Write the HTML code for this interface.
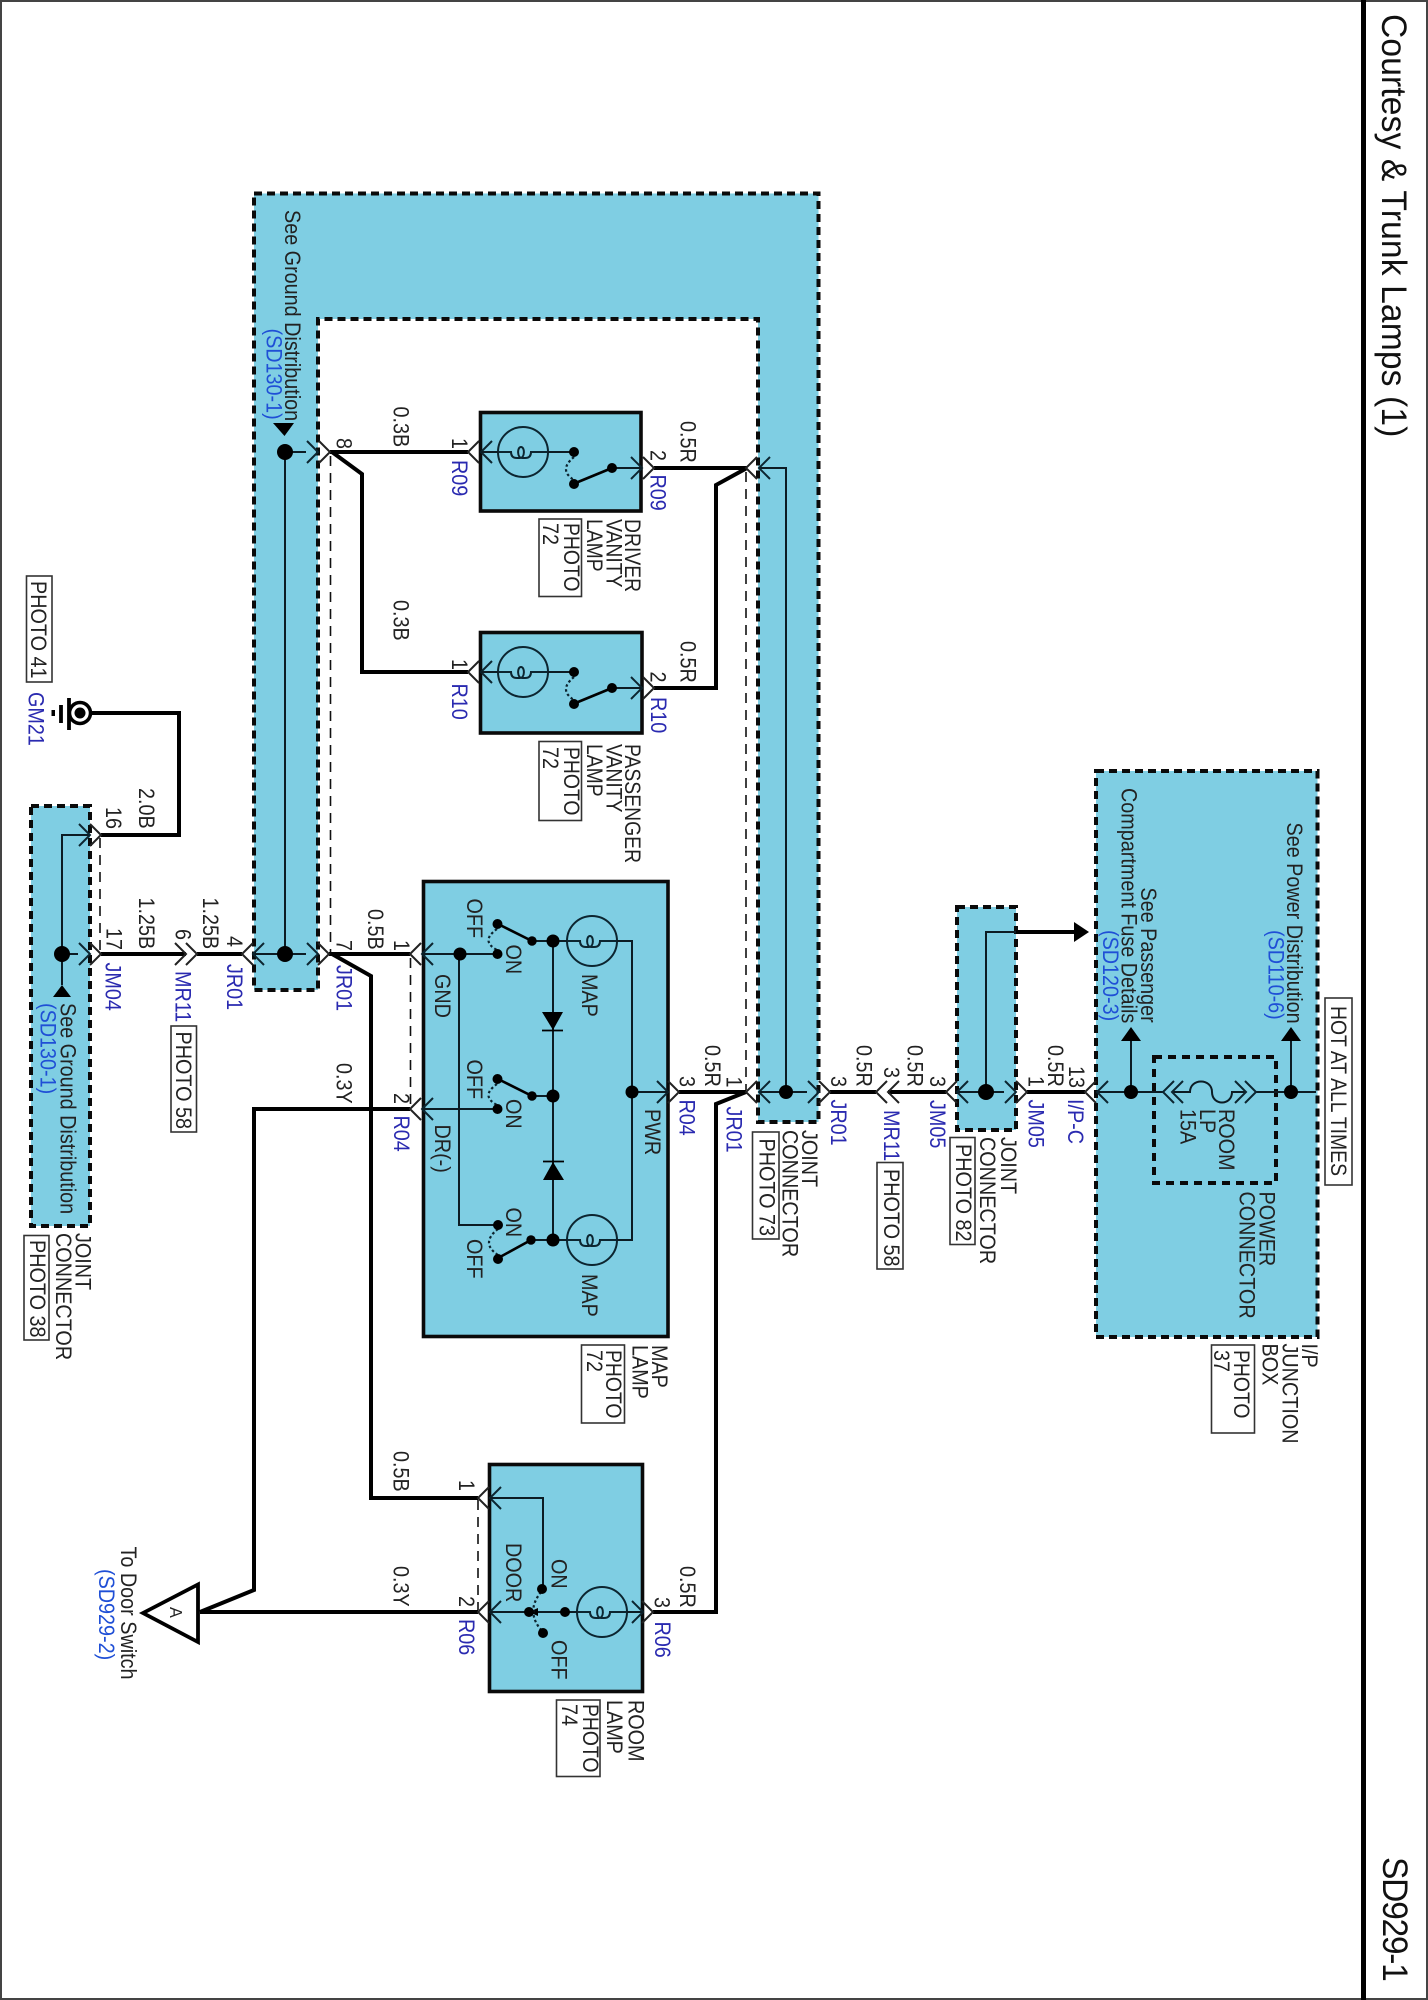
<!DOCTYPE html>
<html><head><meta charset="utf-8"><title>SD929-1</title>
<style>
html,body{margin:0;padding:0;background:#fff}
svg{display:block}
text{font-family:"Liberation Sans",Arial,sans-serif;font-size:22px;fill:#222}
.b{fill:#2a2ab0}
.s{fill:#1f4fd6}
.ti{font-size:35px;fill:#111}
.w{fill:none;stroke:#000;stroke-width:4;stroke-linejoin:miter}
.n{fill:none;stroke:#0c1c24;stroke-width:2}
.d{fill:none;stroke:#111;stroke-width:1.6;stroke-dasharray:10 7}
.z{fill:#7fcee3;stroke:#0a0a0a;stroke-width:4;stroke-dasharray:8 5}
.c{fill:#7fcee3;stroke:#0a0a0a;stroke-width:3.6}
.p{fill:#fff;stroke:#333;stroke-width:1.6}
.h{fill:none;stroke:#222;stroke-width:2}
.i{fill:none;stroke:#0c2530;stroke-width:2}
.a{fill:none;stroke:#0c2530;stroke-width:2.2;stroke-dasharray:2.5 2.5}
</style></head><body>
<svg xmlns="http://www.w3.org/2000/svg" width="1428" height="2000" viewBox="0 0 1428 2000">
<defs>
<path id="cr" d="M-11,-11L0,0L-11,11"/>
<path id="cl" d="M11,-11L0,0L11,11"/>
<g id="lamp" fill="none" stroke="#0c2530" stroke-width="2">
<circle r="25"/>
<path d="M-25,0H-12q0,6 6,6h3c5,0 5,-11 1,-11c-4,0 -4,11 1,11h3q6,0 6,-6H25"/>
</g>
</defs>
<rect width="1428" height="2000" fill="#fff"/>
<rect x="1" y="1" width="1426" height="1998" fill="none" stroke="#444" stroke-width="2"/>
<rect x="1361" y="0" width="5" height="2000" fill="#000"/>
<text class="ti" textLength="441" transform="matrix(0 .96 -1 0 1382 14)">Courtesy &amp; Trunk Lamps (1)</text>
<text class="ti" textLength="130" transform="matrix(0 .96 -1 0 1383 1857)">SD929-1</text>

<!-- shaded connectors -->
<path class="z" d="M254,193.500H818.500V1122H758V319H318V990H254Z"/>
<rect class="z" x="31" y="806" width="59" height="420"/>
<rect class="z" x="957" y="907" width="59" height="223"/>
<rect class="z" x="1096" y="771" width="221.500" height="566"/>
<rect x="1154" y="1057" width="122" height="126" fill="none" stroke="#0a0a0a" stroke-width="4" stroke-dasharray="8 6"/>
<rect class="c" x="480.500" y="412.500" width="160.500" height="98.500"/>
<rect class="c" x="480.500" y="632.500" width="161.500" height="100.500"/>
<rect class="c" x="423.500" y="881.500" width="244.500" height="455"/>
<rect class="c" x="489.500" y="1464.500" width="153" height="227"/>

<!-- dashed shorting lines -->
<path class="d" d="M330.500,456V954M100,838V954M410.500,958V1106M746,472V1090M478,1500V1610"/>

<!-- thick wires -->
<path class="w" d="M330,452H468M332,452L362,474V672H468"/>
<path class="w" d="M654,468H747M654,688H716V485L747,468"/>
<path class="w" d="M92,713H179V835H101"/>
<path class="w" d="M101,954H186M197,954H242M329,954H410M332,954L371,976V1498H478"/>
<path class="w" d="M410,1109H254V1590L200,1612"/>
<path class="w" d="M200,1612H478"/>
<path class="w" d="M679,1092H746L716,1104V1612H653"/>
<path class="w" d="M830,1092H876M888,1092H946M1027,1092H1085"/>
<path class="w" d="M1016,932H1076"/>
<polygon points="1074,922 1089,932 1074,942" fill="#000"/>

<!-- thin wires -->
<path class="n" d="M306,452H285V954M253,954H306"/>
<path class="n" d="M759,468H786V1092M759,1092H807"/>
<path class="n" d="M90,835H62V985M62,954H78"/>
<path class="n" d="M957,1092H1004M986,1092V932H1016"/>
<path class="n" d="M1097,1092H1163M1172,1092H1190C1190,1078 1212,1078 1212,1092C1212,1106 1232,1106 1232,1092H1246M1256,1092H1316"/>
<path class="n" d="M1131,1092V1040M1291,1092V1040"/>

<!-- chevrons outer -->
<g class="h">
<use href="#cl" x="468" y="452"/><use href="#cl" x="468" y="672"/>
<use href="#cr" x="654" y="468"/><use href="#cr" x="654" y="688"/>
<use href="#cr" x="330" y="452"/><use href="#cl" x="746" y="468"/>
<use href="#cr" x="101" y="835"/><use href="#cr" x="101" y="954"/>
<use href="#cr" x="186" y="954"/><use href="#cr" x="197" y="954"/>
<use href="#cl" x="242" y="954"/><use href="#cr" x="329" y="954"/>
<use href="#cl" x="410" y="954"/><use href="#cl" x="410" y="1109"/>
<use href="#cr" x="679" y="1092"/><use href="#cl" x="746" y="1092"/>
<use href="#cr" x="830" y="1092"/><use href="#cl" x="876" y="1092"/><use href="#cl" x="888" y="1092"/>
<use href="#cl" x="946" y="1092"/><use href="#cr" x="1027" y="1092"/><use href="#cl" x="1085" y="1092"/>
<use href="#cl" x="478" y="1498"/><use href="#cl" x="478" y="1612"/><use href="#cr" x="653" y="1612"/>
</g>
<!-- chevrons inner -->
<g class="i">
<use href="#cl" x="481" y="452"/><use href="#cl" x="481" y="672"/>
<use href="#cr" x="642" y="468"/><use href="#cr" x="642" y="688"/>
<use href="#cr" x="318" y="452"/><use href="#cl" x="759" y="468"/>
<use href="#cr" x="90" y="835"/><use href="#cr" x="90" y="954"/>
<use href="#cl" x="253" y="954"/><use href="#cr" x="318" y="954"/>
<use href="#cl" x="422" y="954"/><use href="#cl" x="422" y="1109"/>
<use href="#cr" x="668" y="1092"/><use href="#cl" x="759" y="1092"/>
<use href="#cr" x="819" y="1092"/><use href="#cl" x="957" y="1092"/>
<use href="#cr" x="1016" y="1092"/><use href="#cl" x="1097" y="1092"/>
<use href="#cl" x="1163" y="1092"/><use href="#cl" x="1172" y="1092"/>
<use href="#cr" x="1246" y="1092"/><use href="#cr" x="1256" y="1092"/>
<use href="#cl" x="490" y="1498"/><use href="#cl" x="490" y="1612"/><use href="#cr" x="643" y="1612"/>
</g>

<!-- junction dots + triangles -->
<g fill="#000">
<circle cx="285" cy="452" r="8"/><circle cx="285" cy="954" r="8"/>
<circle cx="62" cy="954" r="8"/><circle cx="786" cy="1092" r="7"/>
<circle cx="986" cy="1092" r="8"/><circle cx="1131" cy="1092" r="7"/><circle cx="1291" cy="1092" r="7"/>
<polygon points="273,423 294,423 284.500,436"/>
<polygon points="53,997 71,997 62,985"/>
<polygon points="1121,1041 1141,1041 1131,1027"/>
<polygon points="1281,1041 1301,1041 1291,1027"/>
</g>

<!-- vanity lamps -->
<use href="#lamp" x="523" y="452"/>
<path class="n" d="M481,452H498M548,452H574M612,468H642"/>
<path class="a" d="M574,457Q558,470 574,480"/>
<path d="M612,468L578,482" stroke="#000" stroke-width="2.6"/>
<g fill="#000"><circle cx="574" cy="452" r="5"/><circle cx="574" cy="484" r="5"/><circle cx="612" cy="468" r="5"/></g>
<use href="#lamp" x="523" y="672"/>
<path class="n" d="M481,672H498M548,672H574M612,688H642"/>
<path class="a" d="M574,677Q558,690 574,700"/>
<path d="M612,688L578,702" stroke="#000" stroke-width="2.6"/>
<g fill="#000"><circle cx="574" cy="672" r="5"/><circle cx="574" cy="704" r="5"/><circle cx="612" cy="688" r="5"/></g>

<!-- map lamp -->
<use href="#lamp" x="592" y="941"/><use href="#lamp" x="592" y="1240"/>
<path class="n" d="M422,954H497M459,954V1225H498M422,1109H497M532,941H567M617,941H632V1240H617M567,1240H531M553,941V1240M532,1096H553M632,1092H668"/>
<path d="M532,941L500,925M532,1096L500,1080M531,1240L500,1257" stroke="#000" stroke-width="2.6"/>
<path class="a" d="M497,929Q480,941 497,950M497,1084Q480,1096 497,1105M498,1229Q480,1243 498,1255"/>
<g fill="#000">
<circle cx="460" cy="954" r="6.500"/>
<circle cx="497.500" cy="924" r="5"/><circle cx="497.500" cy="954" r="5"/>
<circle cx="532" cy="941" r="4.700"/><circle cx="553" cy="941" r="6.500"/>
<circle cx="497.500" cy="1079" r="5"/><circle cx="497.500" cy="1109" r="5"/>
<circle cx="532" cy="1096" r="4.700"/><circle cx="553" cy="1096" r="6.500"/>
<circle cx="498" cy="1225" r="5"/><circle cx="498" cy="1259" r="5"/>
<circle cx="531" cy="1240" r="4.700"/><circle cx="553" cy="1240" r="6.500"/>
<circle cx="632" cy="1092" r="6.500"/>
<polygon points="542,1012 563,1012 553,1030"/>
<polygon points="543,1180 564,1180 553,1162"/>
</g>
<path d="M542,1030.500H563M543,1161.500H564" stroke="#000" stroke-width="1.8"/>

<!-- room lamp -->
<use href="#lamp" x="602" y="1612"/>
<path class="n" d="M490,1498H543V1589M490,1612H577M627,1612H643"/>
<path d="M529,1612L538,1608V1616Z" fill="#000"/>
<path class="a" d="M541,1592Q525,1612 542,1631"/>
<g fill="#000"><circle cx="542" cy="1589" r="5"/><circle cx="529" cy="1612" r="5"/><circle cx="565" cy="1612" r="5"/><circle cx="543" cy="1633" r="5"/></g>

<!-- ground -->
<circle cx="80" cy="713" r="10.500" fill="#fff" stroke="#000" stroke-width="3.5"/>
<circle cx="80" cy="713" r="5.500" fill="#000"/>
<path d="M69,698V730M61,705V723" stroke="#000" stroke-width="3.8"/>
<rect x="51.500" y="710" width="3.500" height="6" fill="#000"/>

<!-- off-sheet A -->
<polygon points="143,1613 198,1584.500 198,1642" fill="#fff" stroke="#000" stroke-width="3.800"/>
<text style="font-size:18px" transform="matrix(0 .9 -1 0 170 1607)">A</text>

<!-- photo boxes -->
<rect class="p" x="26.500" y="576" width="25.500" height="106"/>
<rect class="p" x="539" y="519" width="42.500" height="77.500"/>
<rect class="p" x="539" y="741.500" width="42.500" height="79"/>
<rect class="p" x="171" y="1026" width="25.500" height="106"/>
<rect class="p" x="24" y="1235.500" width="25" height="104.500"/>
<rect class="p" x="581.500" y="1345" width="43" height="78"/>
<rect class="p" x="752.500" y="1132" width="26.500" height="107"/>
<rect class="p" x="877" y="1162.500" width="26" height="106.500"/>
<rect class="p" x="950" y="1137.500" width="25" height="107"/>
<rect class="p" x="1211.500" y="1345" width="43" height="88"/>
<rect class="p" x="556.500" y="1700" width="43.500" height="76.500"/>
<rect class="p" x="1325" y="998" width="27" height="187"/>

<!-- labels -->
<text transform="matrix(0 .9 -1 0 285 210)">See Ground Distribution</text>
<text class="s" transform="matrix(0 .9 -1 0 266.500 328.500)">(SD130-1)</text>
<text transform="matrix(0 .9 -1 0 336.500 438)">8</text>
<text transform="matrix(0 .9 -1 0 393.500 406.500)">0.3B</text>
<text transform="matrix(0 .9 -1 0 452 438)">1</text>
<text class="b" transform="matrix(0 .9 -1 0 452 460)">R09</text>
<text transform="matrix(0 .9 -1 0 650.500 450)">2</text>
<text class="b" transform="matrix(0 .9 -1 0 650.500 474.500)">R09</text>
<text transform="matrix(0 .9 -1 0 680.500 421)">0.5R</text>
<text transform="matrix(0 .88 -1 0 625 519)">DRIVER</text>
<text transform="matrix(0 .88 -1 0 606.500 519)">VANITY</text>
<text transform="matrix(0 .88 -1 0 587 519)">LAMP</text>
<text transform="matrix(0 .88 -1 0 564 523)">PHOTO</text>
<text transform="matrix(0 .9 -1 0 543 523)">72</text>

<text transform="matrix(0 .9 -1 0 31 581)">PHOTO 41</text>
<text class="b" transform="matrix(0 .9 -1 0 28.500 692)">GM21</text>
<text transform="matrix(0 .9 -1 0 393.500 600)">0.3B</text>
<text transform="matrix(0 .9 -1 0 452 659)">1</text>
<text class="b" transform="matrix(0 .9 -1 0 452 683.500)">R10</text>
<text transform="matrix(0 .9 -1 0 650.500 671.500)">2</text>
<text class="b" transform="matrix(0 .9 -1 0 651 697)">R10</text>
<text transform="matrix(0 .9 -1 0 680.500 641)">0.5R</text>
<text transform="matrix(0 .88 -1 0 625 744)">PASSENGER</text>
<text transform="matrix(0 .88 -1 0 606.500 744)">VANITY</text>
<text transform="matrix(0 .88 -1 0 587 744)">LAMP</text>
<text transform="matrix(0 .88 -1 0 564 747)">PHOTO</text>
<text transform="matrix(0 .9 -1 0 543 747)">72</text>

<text transform="matrix(0 .9 -1 0 139 788)">2.0B</text>
<text transform="matrix(0 .9 -1 0 106 807)">16</text>
<text transform="matrix(0 .9 -1 0 106.500 928)">17</text>
<text transform="matrix(0 .9 -1 0 139 897.500)">1.25B</text>
<text class="b" transform="matrix(0 .9 -1 0 105.500 962.500)">JM04</text>
<text transform="matrix(0 .9 -1 0 60.500 1003)">See Ground Distribution</text>
<text class="s" transform="matrix(0 .9 -1 0 40.500 1003)">(SD130-1)</text>
<text transform="matrix(0 .9 -1 0 75.500 1233)">JOINT</text>
<text transform="matrix(0 .9 -1 0 56 1233)">CONNECTOR</text>
<text transform="matrix(0 .9 -1 0 30 1240)">PHOTO 38</text>

<text transform="matrix(0 .9 -1 0 175.500 929)">6</text>
<text class="b" transform="matrix(0 .9 -1 0 175.500 971)">MR11</text>
<text transform="matrix(0 .9 -1 0 176 1031.500)">PHOTO 58</text>
<text transform="matrix(0 .9 -1 0 203 897.500)">1.25B</text>
<text transform="matrix(0 .9 -1 0 227 936)">4</text>
<text class="b" transform="matrix(0 .9 -1 0 227 964)">JR01</text>
<text transform="matrix(0 .9 -1 0 336.500 940)">7</text>
<text class="b" transform="matrix(0 .9 -1 0 336.500 965)">JR01</text>
<text transform="matrix(0 .9 -1 0 368 909)">0.5B</text>
<text transform="matrix(0 .9 -1 0 394 940)">1</text>
<text transform="matrix(0 .9 -1 0 394 1093)">2</text>
<text class="b" transform="matrix(0 .9 -1 0 394 1115.500)">R04</text>
<text transform="matrix(0 .9 -1 0 336.500 1063)">0.3Y</text>
<text transform="matrix(0 .9 -1 0 435 974)">GND</text>
<text transform="matrix(0 .9 -1 0 435 1124.500)">DR(-)</text>
<text transform="matrix(0 .9 -1 0 467 898.500)">OFF</text>
<text transform="matrix(0 .9 -1 0 506 944.500)">ON</text>
<text transform="matrix(0 .9 -1 0 467 1059.500)">OFF</text>
<text transform="matrix(0 .9 -1 0 506 1099)">ON</text>
<text transform="matrix(0 .9 -1 0 506 1207.500)">ON</text>
<text transform="matrix(0 .9 -1 0 467 1239)">OFF</text>
<text transform="matrix(0 .9 -1 0 582 974)">MAP</text>
<text transform="matrix(0 .9 -1 0 582 1274)">MAP</text>
<text transform="matrix(0 .9 -1 0 645 1109)">PWR</text>
<text transform="matrix(0 .9 -1 0 679.500 1076)">3</text>
<text class="b" transform="matrix(0 .9 -1 0 679.500 1099.500)">R04</text>
<text transform="matrix(0 .9 -1 0 705 1045)">0.5R</text>
<text transform="matrix(0 .9 -1 0 652 1345)">MAP</text>
<text transform="matrix(0 .9 -1 0 632.500 1345)">LAMP</text>
<text transform="matrix(0 .88 -1 0 606 1350)">PHOTO</text>
<text transform="matrix(0 .9 -1 0 587 1350)">72</text>

<text transform="matrix(0 .9 -1 0 726.500 1076.500)">1</text>
<text class="b" transform="matrix(0 .9 -1 0 726.500 1106.500)">JR01</text>
<text transform="matrix(0 .9 -1 0 831 1076)">3</text>
<text class="b" transform="matrix(0 .9 -1 0 831 1099.500)">JR01</text>
<text transform="matrix(0 .9 -1 0 856.500 1045)">0.5R</text>
<text transform="matrix(0 .9 -1 0 884 1067)">3</text>
<text class="b" transform="matrix(0 .9 -1 0 884 1110)">MR11</text>
<text transform="matrix(0 .9 -1 0 884 1169)">PHOTO 58</text>
<text transform="matrix(0 .9 -1 0 907.500 1045)">0.5R</text>
<text transform="matrix(0 .9 -1 0 930 1076)">3</text>
<text class="b" transform="matrix(0 .9 -1 0 930 1100)">JM05</text>
<text transform="matrix(0 .9 -1 0 802 1130)">JOINT</text>
<text transform="matrix(0 .9 -1 0 782.500 1130)">CONNECTOR</text>
<text transform="matrix(0 .9 -1 0 759.500 1138.500)">PHOTO 73</text>
<text transform="matrix(0 .9 -1 0 1001 1137)">JOINT</text>
<text transform="matrix(0 .9 -1 0 980 1137)">CONNECTOR</text>
<text transform="matrix(0 .9 -1 0 956 1144)">PHOTO 82</text>
<text transform="matrix(0 .9 -1 0 1028.500 1076)">1</text>
<text class="b" transform="matrix(0 .9 -1 0 1028.500 1099.500)">JM05</text>
<text transform="matrix(0 .9 -1 0 1048 1045)">0.5R</text>
<text transform="matrix(0 .9 -1 0 1069 1066)">13</text>
<text class="b" transform="matrix(0 .9 -1 0 1068 1099)">I/P-C</text>
<text transform="matrix(0 .9 -1 0 1141 887.500)">See Passenger</text>
<text transform="matrix(0 .9 -1 0 1121.500 788)">Compartment Fuse Details</text>
<text class="s" transform="matrix(0 .9 -1 0 1103 930)">(SD120-3)</text>
<text transform="matrix(0 .9 -1 0 1287 822.500)">See Power Distribution</text>
<text class="s" transform="matrix(0 .9 -1 0 1268.500 930)">(SD110-6)</text>
<text transform="matrix(0 .88 -1 0 1331 1006)">HOT AT ALL TIMES</text>
<text transform="matrix(0 .9 -1 0 1219 1109)">ROOM</text>
<text transform="matrix(0 .9 -1 0 1200 1109)">LP</text>
<text transform="matrix(0 .9 -1 0 1180.500 1109)">15A</text>
<text transform="matrix(0 .9 -1 0 1259.500 1191.500)">POWER</text>
<text transform="matrix(0 .9 -1 0 1239.500 1191.500)">CONNECTOR</text>
<text transform="matrix(0 .9 -1 0 1302 1343.500)">I/P</text>
<text transform="matrix(0 .9 -1 0 1282.500 1343.500)">JUNCTION</text>
<text transform="matrix(0 .9 -1 0 1262.500 1343.500)">BOX</text>
<text transform="matrix(0 .88 -1 0 1234 1350)">PHOTO</text>
<text transform="matrix(0 .9 -1 0 1214 1350)">37</text>

<text transform="matrix(0 .9 -1 0 393.500 1451)">0.5B</text>
<text transform="matrix(0 .9 -1 0 459 1480)">1</text>
<text transform="matrix(0 .9 -1 0 393.500 1566)">0.3Y</text>
<text transform="matrix(0 .9 -1 0 459 1596)">2</text>
<text class="b" transform="matrix(0 .9 -1 0 459 1619)">R06</text>
<text transform="matrix(0 .9 -1 0 654.500 1597)">3</text>
<text class="b" transform="matrix(0 .9 -1 0 655 1621.500)">R06</text>
<text transform="matrix(0 .9 -1 0 680 1566)">0.5R</text>
<text transform="matrix(0 .9 -1 0 506 1543)">DOOR</text>
<text transform="matrix(0 .9 -1 0 551.500 1559)">ON</text>
<text transform="matrix(0 .9 -1 0 551.500 1640)">OFF</text>
<text transform="matrix(0 .9 -1 0 628.500 1700)">ROOM</text>
<text transform="matrix(0 .9 -1 0 607 1700)">LAMP</text>
<text transform="matrix(0 .88 -1 0 583 1704)">PHOTO</text>
<text transform="matrix(0 .9 -1 0 562 1704)">74</text>
<text transform="matrix(0 .9 -1 0 121 1546.500)">To Door Switch</text>
<text class="s" transform="matrix(0 .9 -1 0 99 1569)">(SD929-2)</text>
</svg>
</body></html>
